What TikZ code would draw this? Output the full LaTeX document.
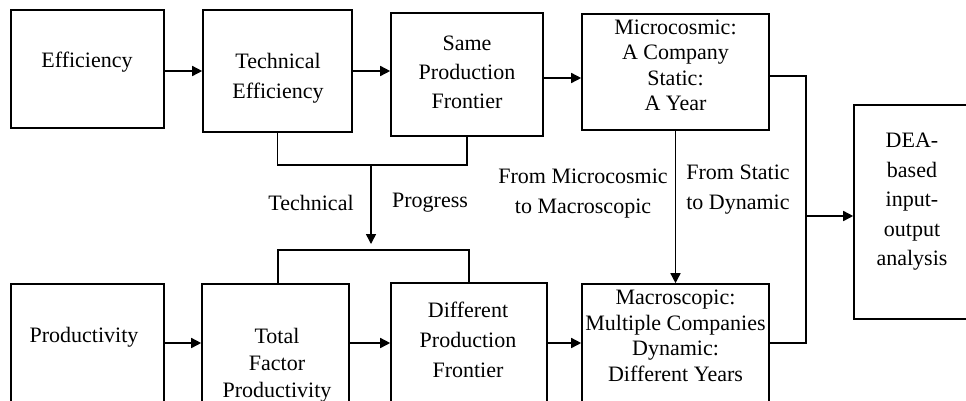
\documentclass[tikz,border=0pt]{standalone}
\usepackage{fontspec}
\setmainfont{Liberation Serif}
\usetikzlibrary{arrows.meta}
\begin{document}
\begin{tikzpicture}[x=1pt,y=-1pt,
  box/.style={draw, line width=1.6pt, rectangle, inner sep=0pt},
  txt/.style={align=center, inner sep=0pt, font=\fontsize{22}{30}\selectfont},
  tight/.style={font=\fontsize{22}{25.5}\selectfont},
  conn/.style={line width=1.5pt},
  arr/.style={conn, -{Triangle[length=10pt,width=10pt]}}]
\useasboundingbox (0,0) rectangle (966,400);
\clip (0,0) rectangle (966,400);
\fill[white] (0,0) rectangle (966,400);
% boxes
\node[box, minimum width=153pt, minimum height=118pt] (eff) at (87.3,69) {};
\node[box, minimum width=149pt, minimum height=122pt] (te) at (277.5,71) {};
\node[box, minimum width=152pt, minimum height=123pt] (same) at (467,74.5) {};
\node[box, minimum width=187pt, minimum height=116pt] (micro) at (675.5,72) {};
\node[box, minimum width=116pt, minimum height=214pt] (dea) at (912,212) {};
\node[box, minimum width=153pt, minimum height=118pt] (prod) at (87.3,343) {};
\node[box, minimum width=147pt, minimum height=118pt] (tfp) at (275.5,343) {};
\node[box, minimum width=156pt, minimum height=120pt] (dpf) at (469,343) {};
\node[box, minimum width=187pt, minimum height=118pt] (macro) at (675.5,343) {};
% texts
\node[txt] (efft) at (87,62) {Efficiency};
\node[txt] (tet) at (278,78) {Technical\\Efficiency};
\node[txt, font=\fontsize{22}{29}\selectfont] (samet) at (467,72) {Same\\Production\\Frontier};
\node[txt, tight] (microt) at (675.5,65.5) {Microcosmic:\\A Company\\Static:\\A Year};
\node[txt, font=\fontsize{22}{29.5}\selectfont] (deat) at (912,202) {DEA-\\based\\input-\\output\\analysis};
\node[txt] (prodt) at (84,337) {Productivity};
\node[txt, font=\fontsize{22}{27}\selectfont, anchor=north] (tfpt) at (277,328) {Total\\Factor\\Productivity};
\node[txt] (dpft) at (468,340) {Different\\Production\\Frontier};
\node[txt, tight] (macrot) at (675.5,336) {Macroscopic:\\Multiple Companies\\Dynamic:\\Different Years};
% labels
\node[txt] (lt1) at (311,203) {Technical};
\node[txt] (lt2) at (430,203) {Progress};
\node[txt] (lm) at (583,194) {From Microcosmic\\to Macroscopic};
\node[txt] (ls) at (738,190) {From Static\\to Dynamic};
% coordinates
\coordinate (tpjoin) at (371,165);
\coordinate (tparr) at (371,244);
\coordinate (lowbr) at (371,250);
\coordinate (busx) at (806,216);
% connectors
\draw[arr] (eff.east |- te.west) -- (te.west);
\draw[arr] (te.east) -- (te.east -| same.west);
\draw[arr] ([yshift=-3.5pt]same.east) -- ([yshift=-3.5pt]same.east -| micro.west);
\draw[conn] (te.south) |- (tpjoin) -| (same.south);
\draw[arr] (tpjoin) -- (tparr);
\draw[conn] ([xshift=2.5pt]tfp.north) |- (lowbr) -| (dpf.north);
\draw[arr] (prod.east) -- (tfp.west);
\draw[arr] (tfp.east) -- (dpf.west);
\draw[arr] (dpf.east) -- (macro.west);
\draw[arr] (micro.south) -- (macro.north);
\draw[conn] ([yshift=-4pt]micro.east) -| (busx) |- (macro.east);
\draw[arr] (busx) -- (busx -| dea.west);
\end{tikzpicture}
\end{document}
